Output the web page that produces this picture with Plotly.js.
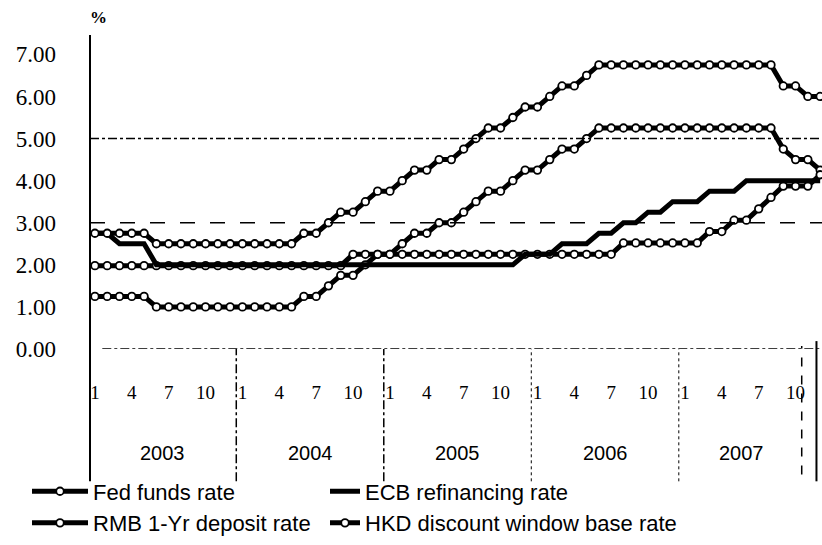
<!DOCTYPE html>
<html>
<head>
<meta charset="utf-8">
<script src="https://cdn.plot.ly/plotly-3.0.1.min.js"></script>
<style>
  html, body { margin: 0; padding: 0; background: #ffffff; }
  #chart { width: 822px; height: 545px; }
</style>
</head>
<body>
<div id="chart"></div>
<script>
// ---- data (monthly, Jan 2003 - Dec 2007) ----
const years = [2003, 2004, 2005, 2006, 2007];
const monthTicks = [1, 4, 7, 10];
const yTickValues = [0, 1, 2, 3, 4, 5, 6, 7];
const yTickLabels = ['0.00', '1.00', '2.00', '3.00', '4.00', '5.00', '6.00', '7.00'];

const seriesNames = ['Fed funds rate', 'ECB refinancing rate', 'RMB 1-Yr deposit rate', 'HKD discount window base rate'];

const fedFunds = [
  1.25, 1.25, 1.25, 1.25, 1.25, 1.00, 1.00, 1.00, 1.00, 1.00, 1.00, 1.00,
  1.00, 1.00, 1.00, 1.00, 1.00, 1.25, 1.25, 1.50, 1.75, 1.75, 2.00, 2.25,
  2.25, 2.50, 2.75, 2.75, 3.00, 3.00, 3.25, 3.50, 3.75, 3.75, 4.00, 4.25,
  4.25, 4.50, 4.75, 4.75, 5.00, 5.25, 5.25, 5.25, 5.25, 5.25, 5.25, 5.25,
  5.25, 5.25, 5.25, 5.25, 5.25, 5.25, 5.25, 5.25, 4.75, 4.50, 4.50, 4.25
];
const ecbRefi = [
  2.75, 2.75, 2.50, 2.50, 2.50, 2.00, 2.00, 2.00, 2.00, 2.00, 2.00, 2.00,
  2.00, 2.00, 2.00, 2.00, 2.00, 2.00, 2.00, 2.00, 2.00, 2.00, 2.00, 2.00,
  2.00, 2.00, 2.00, 2.00, 2.00, 2.00, 2.00, 2.00, 2.00, 2.00, 2.00, 2.25,
  2.25, 2.25, 2.50, 2.50, 2.50, 2.75, 2.75, 3.00, 3.00, 3.25, 3.25, 3.50,
  3.50, 3.50, 3.75, 3.75, 3.75, 4.00, 4.00, 4.00, 4.00, 4.00, 4.00, 4.00
];
const rmbDeposit = [
  1.98, 1.98, 1.98, 1.98, 1.98, 1.98, 1.98, 1.98, 1.98, 1.98, 1.98, 1.98,
  1.98, 1.98, 1.98, 1.98, 1.98, 1.98, 1.98, 1.98, 1.98, 2.25, 2.25, 2.25,
  2.25, 2.25, 2.25, 2.25, 2.25, 2.25, 2.25, 2.25, 2.25, 2.25, 2.25, 2.25,
  2.25, 2.25, 2.25, 2.25, 2.25, 2.25, 2.25, 2.52, 2.52, 2.52, 2.52, 2.52,
  2.52, 2.52, 2.79, 2.79, 3.06, 3.06, 3.33, 3.60, 3.87, 3.87, 3.87, 4.14
];
const hkdBase = [
  2.75, 2.75, 2.75, 2.75, 2.75, 2.50, 2.50, 2.50, 2.50, 2.50, 2.50, 2.50,
  2.50, 2.50, 2.50, 2.50, 2.50, 2.75, 2.75, 3.00, 3.25, 3.25, 3.50, 3.75,
  3.75, 4.00, 4.25, 4.25, 4.50, 4.50, 4.75, 5.00, 5.25, 5.25, 5.50, 5.75,
  5.75, 6.00, 6.25, 6.25, 6.50, 6.75, 6.75, 6.75, 6.75, 6.75, 6.75, 6.75,
  6.75, 6.75, 6.75, 6.75, 6.75, 6.75, 6.75, 6.75, 6.25, 6.25, 6.00, 6.00
];

// ---- build ----
const monthIndex = fedFunds.map((_, i) => i);
const tickVals = [];
const tickText = [];
years.forEach((y, yi) => {
  monthTicks.forEach(m => { tickVals.push(yi * 12 + (m - 1)); tickText.push(String(m)); });
});

const lineStyle = { color: '#000000', width: 5 };
const markerStyle = { symbol: 'circle', size: 7.5, color: '#ffffff', line: { color: '#000000', width: 1.8 } };

const traces = [
  { x: monthIndex, y: fedFunds, name: seriesNames[0], mode: 'lines+markers', line: lineStyle, marker: markerStyle, legend: 'legend' },
  { x: monthIndex, y: rmbDeposit, name: seriesNames[2], mode: 'lines+markers', line: lineStyle, marker: markerStyle, legend: 'legend' },
  { x: monthIndex, y: ecbRefi, name: seriesNames[1], mode: 'lines', line: lineStyle, legend: 'legend2' },
  { x: monthIndex, y: hkdBase, name: seriesNames[3], mode: 'lines+markers', line: lineStyle, marker: markerStyle, legend: 'legend2' }
];

// pixel helpers for paper coords (plot area: y 35..353 px, x 90..822 px)
const plotTop = 35, plotBottom = 353, plotLeft = 90, plotW = 732;
const py = Y => (plotBottom - Y) / (plotBottom - plotTop);
const px = X => (X - plotLeft) / plotW;

const shapes = [
  // y axis line (extends down through the label area)
  { type: 'line', xref: 'paper', yref: 'paper', x0: 0, x1: 0, y0: py(487), y1: 1, line: { color: '#000', width: 2 } },
  // horizontal reference lines
  { type: 'line', xref: 'x', yref: 'y', x0: 0.6, x1: 59.2, y0: 0, y1: 0, line: { color: '#000', width: 1.5, dash: 'dashdot' } },
  { type: 'line', xref: 'x', yref: 'y', x0: -0.4, x1: 59.2, y0: 3, y1: 3, line: { color: '#000', width: 1.5, dash: 'longdash' } },
  { type: 'line', xref: 'x', yref: 'y', x0: -0.4, x1: 59.2, y0: 5, y1: 5, line: { color: '#000', width: 1.5, dash: 'dashdot' } },
];
// year separators
years.slice(1).forEach((y, i) => {
  const xs = (i + 1) * 12 - 0.5;
  shapes.push({ type: 'line', xref: 'x', yref: 'paper', x0: xs, x1: xs, y0: py(487), y1: 0,
    line: { color: '#000', width: i < 2 ? 1.5 : 1, dash: i < 2 ? 'dashdot' : 'dot' } });
});
// right-hand border lines
shapes.push({ type: 'line', xref: 'x', yref: 'paper', x0: 57.5, x1: 57.5, y0: py(480), y1: py(350), line: { color: '#000', width: 1.5, dash: 'dash' } });
shapes.push({ type: 'line', xref: 'x', yref: 'paper', x0: 58.7, x1: 58.7, y0: py(487), y1: py(345), line: { color: '#000', width: 2 } });

const annotations = [
  { text: '%', xref: 'paper', yref: 'paper', x: px(98), y: py(17), showarrow: false, xanchor: 'center', yanchor: 'middle',
    font: { family: 'Liberation Serif', size: 17, color: '#000', weight: 'bold' } }
];
const yearCenters = [5.5, 17.5, 29.5, 41.5, 52.6];
years.forEach((y, i) => {
  annotations.push({ text: String(y), xref: 'x', yref: 'paper', x: yearCenters[i], y: py(458), showarrow: false,
    xanchor: 'center', yanchor: 'middle', font: { family: 'Liberation Sans', size: 20, color: '#000' } });
});

const legendFont = { family: 'Liberation Sans', size: 22, color: '#000' };
const layout = {
  width: 822, height: 545,
  margin: { l: 90, r: 0, t: 35, b: 192 },
  paper_bgcolor: '#ffffff', plot_bgcolor: '#ffffff',
  showlegend: true,
  xaxis: {
    range: [-0.4, 59.15], tickmode: 'array', tickvals: tickVals, ticktext: tickText,
    showgrid: false, zeroline: false, showline: false, ticks: '',
    ticklabelstandoff: 30,
    tickfont: { family: 'Liberation Serif', size: 19, color: '#000' }
  },
  yaxis: {
    range: [0, 7.46], tickmode: 'array', tickvals: yTickValues, ticktext: yTickLabels,
    showgrid: false, zeroline: false, showline: false, ticks: '',
    ticklabelstandoff: 33,
    tickfont: { family: 'Liberation Serif', size: 23, color: '#000' }
  },
  legend: {
    x: px(27), y: py(476), xanchor: 'left', yanchor: 'top', orientation: 'v',
    itemwidth: 56, font: legendFont, bgcolor: 'rgba(0,0,0,0)', tracegroupgap: 0
  },
  legend2: {
    x: px(325), y: py(476), xanchor: 'left', yanchor: 'top', orientation: 'v',
    itemwidth: 30, font: legendFont, bgcolor: 'rgba(0,0,0,0)', tracegroupgap: 0
  },
  shapes: shapes,
  annotations: annotations
};

Plotly.newPlot('chart', traces, layout, { displayModeBar: false, staticPlot: true });
</script>
</body>
</html>
